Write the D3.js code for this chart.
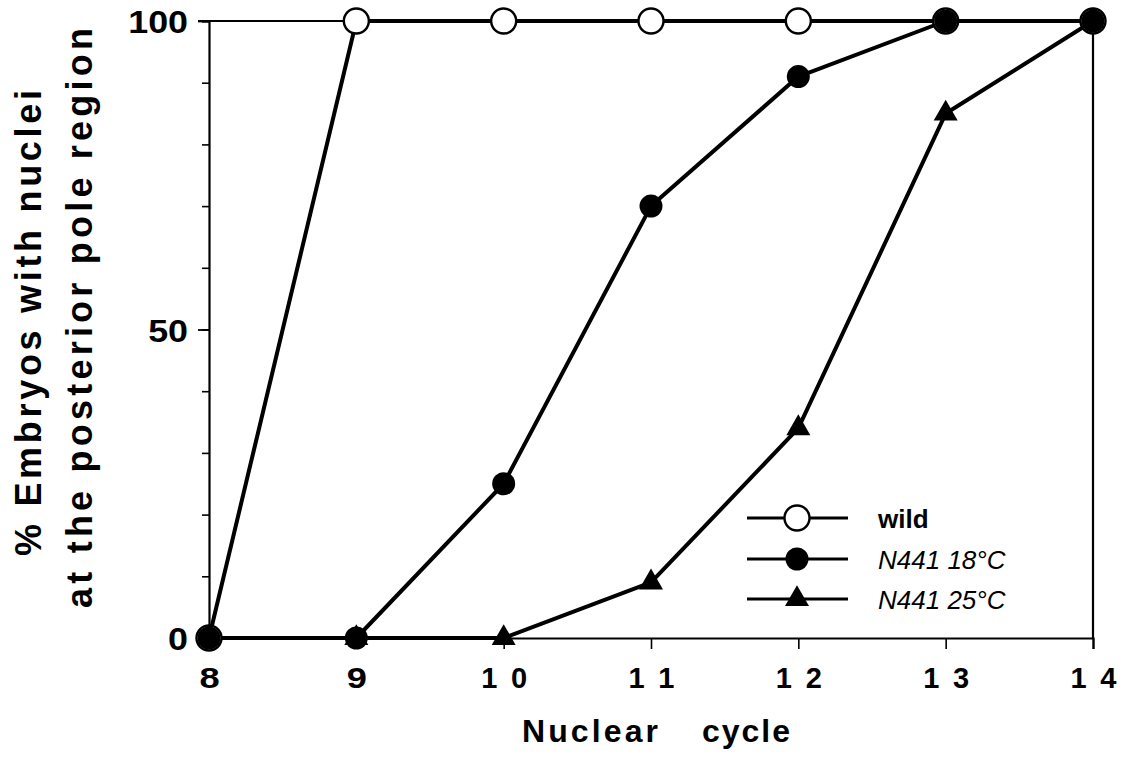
<!DOCTYPE html>
<html>
<head>
<meta charset="utf-8">
<script src="https://cdn.jsdelivr.net/npm/d3@7"></script>
<style>
  html, body { margin: 0; padding: 0; background: #fff; }
  svg { display: block; }
  text { font-family: "Liberation Sans", Arial, Helvetica, sans-serif; fill: #000; }
</style>
</head>
<body>
<svg id="chart" width="1123" height="761"></svg>
<script>
// ---- data ----
const cycles = [8, 9, 10, 11, 12, 13, 14];
const wild = [0, 100, 100, 100, 100, 100, 100];
const n441_18 = [0, 0, 25, 70, 91, 100, 100];
const n441_25 = [0, 0, 0, 9, 34, 85, 100];
const xTickLabels = ["8", "9", "10", "11", "12", "13", "14"];
const yMajorTicks = [0, 50, 100];
const yTickLabels = ["0", "50", "100"];
const seriesNames = ["wild", "N441 18°C", "N441 25°C"];
const xTitle = ["Nuclear", "cycle"];
const yTitle = ["% Embryos with nuclei", "at the posterior pole region"];

// ---- layout ----
const svg = d3.select("#chart");
const x = d3.scaleLinear().domain([8, 14]).range([209, 1093]);
const y = d3.scaleLinear().domain([0, 100]).range([638, 21]);

const AX = 2.2;     // axis stroke
const LW = 4;       // series stroke

const series = [
  { name: seriesNames[0], vals: wild, marker: "open" },
  { name: seriesNames[1], vals: n441_18, marker: "filled" },
  { name: seriesNames[2], vals: n441_25, marker: "triangle" }
];

// ---- frame (top and right border) ----
svg.append("line").attr("x1", x(8) - 11).attr("x2", x(14)).attr("y1", y(100)).attr("y2", y(100))
  .attr("stroke", "#000").attr("stroke-width", AX);
svg.append("line").attr("x1", x(14)).attr("x2", x(14)).attr("y1", y(100)).attr("y2", y(0))
  .attr("stroke", "#000").attr("stroke-width", AX);

// ---- y axis: minor and major ticks ----
const yMinor = svg.append("g").attr("transform", `translate(${x(8)},0)`)
  .call(d3.axisLeft(y).tickValues(d3.range(0, 101, 10)).tickSize(7).tickFormat(""));
yMinor.select(".domain").attr("stroke-width", AX);
yMinor.selectAll(".tick line").attr("stroke-width", 1.6);

const yMajor = svg.append("g").attr("transform", `translate(${x(8)},0)`)
  .call(d3.axisLeft(y).tickValues(yMajorTicks).tickSize(11).tickPadding(10)
    .tickFormat((d, i) => yTickLabels[i]));
yMajor.select(".domain").remove();
yMajor.selectAll(".tick line").attr("stroke-width", 1.8);
yMajor.selectAll(".tick text")
  .attr("font-size", 32).attr("font-weight", "bold")
  .attr("font-family", '"Liberation Sans", Arial, sans-serif')
  .attr("dy", "0.36em")
  .each(function() {
    const t = d3.select(this);
    const w = this.getComputedTextLength();
    t.attr("textLength", w * 1.12).attr("lengthAdjust", "spacingAndGlyphs");
  });

// ---- x axis ----
const xAx = svg.append("g").attr("transform", `translate(0,${y(0)})`)
  .call(d3.axisBottom(x).tickValues(cycles).tickSize(11).tickPadding(18)
    .tickFormat((d, i) => xTickLabels[i]));
xAx.select(".domain").attr("stroke-width", AX);
xAx.selectAll(".tick line").attr("stroke-width", 1.6);
xAx.selectAll(".tick text")
  .attr("font-size", 29).attr("font-weight", "bold")
  .attr("font-family", '"Liberation Sans", Arial, sans-serif')
  .attr("dy", "0.71em")
  .each(function(d, i) {
    const t = d3.select(this);
    if (xTickLabels[i].length > 1) {
      t.attr("textLength", 46).attr("lengthAdjust", "spacing");
    } else {
      const w = this.getComputedTextLength();
      t.attr("textLength", w * 1.25).attr("lengthAdjust", "spacingAndGlyphs");
    }
  });

// ---- series lines ----
const line = d3.line().x((d, i) => x(cycles[i])).y(d => y(d));
[series[0], series[2], series[1]].forEach(s => {
  svg.append("path").datum(s.vals).attr("d", line)
    .attr("fill", "none").attr("stroke", "#000").attr("stroke-width", LW)
    .attr("stroke-linejoin", "round");
});

// ---- markers ----
function drawMarker(g, type, cx, cy) {
  if (type === "open") {
    g.append("circle").attr("cx", cx).attr("cy", cy).attr("r", 12.5)
      .attr("fill", "#fff").attr("stroke", "#000").attr("stroke-width", 2.4);
  } else if (type === "filled") {
    g.append("circle").attr("cx", cx).attr("cy", cy).attr("r", 11.5)
      .attr("fill", "#000");
  } else {
    g.append("path").attr("d", d3.symbol().type(d3.symbolTriangle).size(250)())
      .attr("transform", `translate(${cx},${cy})`).attr("fill", "#000");
  }
}
const mk = svg.append("g");
[series[0], series[2], series[1]].forEach(s => {
  s.vals.forEach((v, i) => drawMarker(mk, s.marker, x(cycles[i]), y(v)));
});

// ---- legend ----
const legendRows = [518, 559, 599];
const lg = svg.append("g");
series.forEach((s, i) => {
  const ly = legendRows[i];
  lg.append("line").attr("x1", 747).attr("x2", 848).attr("y1", ly).attr("y2", ly)
    .attr("stroke", "#000").attr("stroke-width", 3.2);
  drawMarker(lg, s.marker, 797, ly);
  const t = lg.append("text").attr("x", 878).attr("y", ly + 10)
    .attr("font-size", 26).text(s.name);
  if (i === 0) t.attr("font-weight", "bold");
  else t.attr("font-style", "italic");
});

// ---- axis titles ----
svg.append("text").attr("x", 522).attr("y", 742)
  .attr("font-size", 32).attr("font-weight", "bold")
  .attr("textLength", 136).attr("lengthAdjust", "spacing")
  .text(xTitle[0]);
svg.append("text").attr("x", 702).attr("y", 742)
  .attr("font-size", 32).attr("font-weight", "bold")
  .attr("textLength", 88).attr("lengthAdjust", "spacing")
  .text(xTitle[1]);

svg.append("text")
  .attr("transform", "translate(41,323) rotate(-90)")
  .attr("text-anchor", "middle").attr("font-size", 36).attr("font-weight", "bold")
  .attr("textLength", 466).attr("lengthAdjust", "spacing")
  .text(yTitle[0]);
svg.append("text")
  .attr("transform", "translate(92,318) rotate(-90)")
  .attr("text-anchor", "middle").attr("font-size", 36).attr("font-weight", "bold")
  .attr("textLength", 580).attr("lengthAdjust", "spacing")
  .text(yTitle[1]);
</script>
</body>
</html>
